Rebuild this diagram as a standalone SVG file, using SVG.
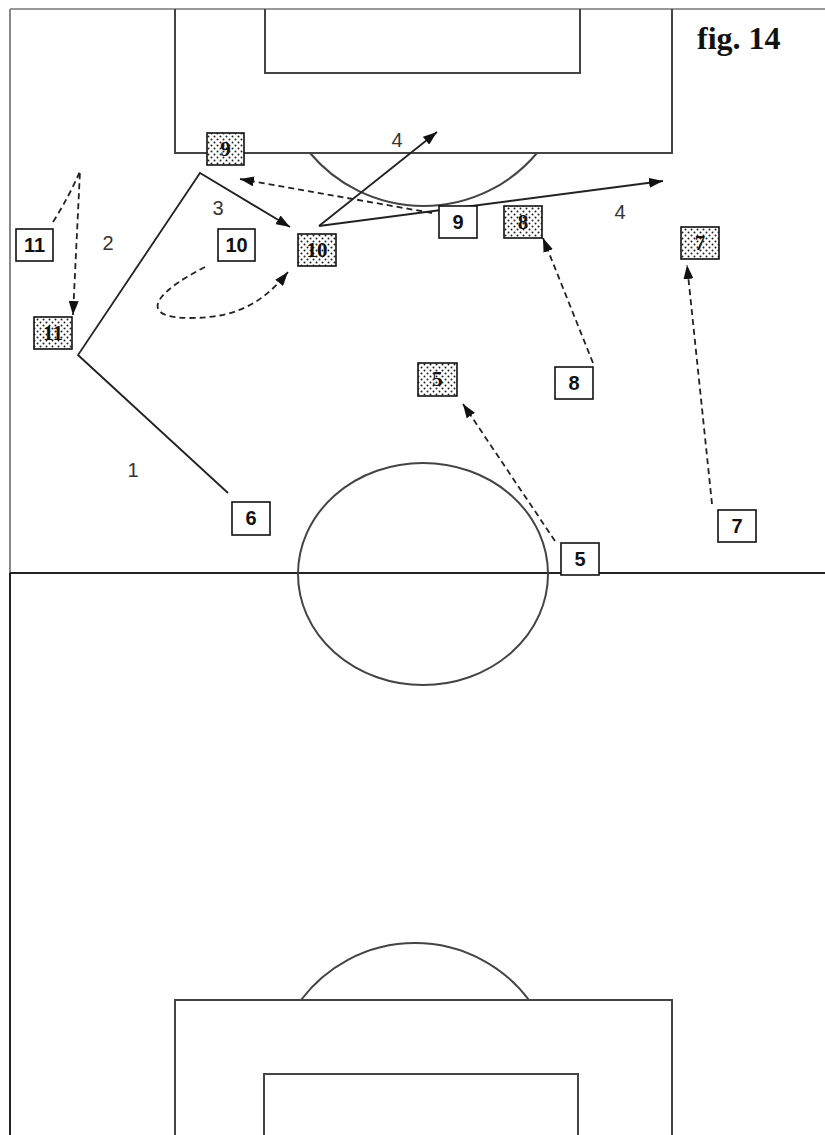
<svg xmlns="http://www.w3.org/2000/svg" width="825" height="1135" viewBox="0 0 825 1135">
<style>
.fld{fill:none;stroke:#444;stroke-width:2}
.sol{fill:none;stroke:#222;stroke-width:1.8}
.dsh{fill:none;stroke:#222;stroke-width:1.8;stroke-dasharray:6 4}
.box{fill:#fff;stroke:#111;stroke-width:1.6}
.sbox{fill:url(#dots);stroke:#111;stroke-width:1.6}
.pt{font-family:"Liberation Sans",Arial,sans-serif;font-weight:bold;font-size:20px;fill:#111;text-anchor:middle}
.st{font-family:"Liberation Serif","Times New Roman",serif;font-weight:bold;font-size:21px;fill:#111;text-anchor:middle}
.lbl{font-family:"Liberation Sans",Arial,sans-serif;font-size:20px;fill:#333;text-anchor:middle}
</style>
<defs>
<pattern id="dots" width="6" height="6" patternUnits="userSpaceOnUse">
<rect width="6" height="6" fill="#fff"/>
<circle cx="1.5" cy="1.5" r="1" fill="#222"/>
<circle cx="4.5" cy="4.5" r="1" fill="#222"/>
</pattern>
<marker id="ah" viewBox="0 0 14 10" refX="14" refY="5" markerWidth="14" markerHeight="10" markerUnits="userSpaceOnUse" orient="auto">
<path d="M0,0 L14,5 L0,10 z" fill="#111"/>
</marker>
</defs>
<rect width="825" height="1135" fill="#fff"/>
<g id="pitch">
<path d="M10,9 H825" fill="none" stroke="#999" stroke-width="2"/>
<path d="M10,9 V573" fill="none" stroke="#888" stroke-width="2"/>
<path d="M10,573 V1135" fill="none" stroke="#222" stroke-width="2"/>
<path class="fld" d="M175,9 V153 H672 V9"/>
<path class="fld" d="M265,9 V73 H580 V9"/>
<path class="fld" d="M310,153 A148,148 0 0 0 537,153"/>
<path d="M10,573 H825" fill="none" stroke="#222" stroke-width="2.2"/>
<ellipse class="fld" cx="423" cy="574" rx="125" ry="111"/>
<path class="fld" d="M175,1135 V1000 H672 V1135"/>
<path class="fld" d="M264,1135 V1074 H578 V1135"/>
<path class="fld" d="M301,1000 A142.5,142.5 0 0 1 529,1000"/>
</g>
<text x="697" y="49" font-family="'Liberation Serif','Times New Roman',serif" font-weight="bold" font-size="32" fill="#111">fig. 14</text>
<g id="connectors">
<path class="sol" d="M228,493 L78,355 L200,173 L290,227" marker-end="url(#ah)"/>
<path class="sol" d="M319,226 L437,132" marker-end="url(#ah)"/>
<path class="sol" d="M319,226 L663,181" marker-end="url(#ah)"/>
<path class="dsh" d="M432,213 L240,179" marker-end="url(#ah)"/>
<path class="dsh" d="M53,222 Q70,195 80,171 L73,315" marker-end="url(#ah)"/>
<path class="dsh" d="M205,267 C150,295 140,318 190,318 C240,318 265,300 288,272" marker-end="url(#ah)"/>
<path class="dsh" d="M593,363 L543,238" marker-end="url(#ah)"/>
<path class="dsh" d="M555,541 L463,404" marker-end="url(#ah)"/>
<path class="dsh" d="M712,504 L687,265" marker-end="url(#ah)"/>
<text class="lbl" x="133" y="477">1</text>
<text class="lbl" x="108" y="250">2</text>
<text class="lbl" x="218" y="215">3</text>
<text class="lbl" x="397" y="147">4</text>
<text class="lbl" x="620" y="219">4</text>
</g>
<g id="s9"><rect class="sbox" x="207" y="133" width="37" height="32"/><text class="st" x="225.5" y="156">9</text></g>
<g id="s10"><rect class="sbox" x="298" y="234" width="38" height="32"/><text class="st" x="317" y="257">10</text></g>
<g id="s11"><rect class="sbox" x="34" y="317" width="38" height="32"/><text class="st" x="53" y="340">11</text></g>
<g id="s8"><rect class="sbox" x="504" y="206" width="38" height="32"/><text class="st" x="523" y="229">8</text></g>
<g id="s7"><rect class="sbox" x="681" y="227" width="38" height="32"/><text class="st" x="700" y="250">7</text></g>
<g id="s5"><rect class="sbox" x="418" y="363" width="39" height="33"/><text class="st" x="437.5" y="386">5</text></g>
<g id="p11"><rect class="box" x="16" y="229" width="37" height="32"/><text class="pt" x="34.5" y="252">11</text></g>
<g id="p10"><rect class="box" x="218" y="229" width="37" height="32"/><text class="pt" x="236.5" y="252">10</text></g>
<g id="p9"><rect class="box" x="439" y="206" width="38" height="32"/><text class="pt" x="458" y="229">9</text></g>
<g id="p8"><rect class="box" x="555" y="367" width="38" height="32"/><text class="pt" x="574" y="390">8</text></g>
<g id="p6"><rect class="box" x="232" y="502" width="38" height="33"/><text class="pt" x="251" y="525">6</text></g>
<g id="p5"><rect class="box" x="561" y="543" width="38" height="32"/><text class="pt" x="580" y="566">5</text></g>
<g id="p7"><rect class="box" x="718" y="510" width="38" height="32"/><text class="pt" x="737" y="533">7</text></g>
</svg>
